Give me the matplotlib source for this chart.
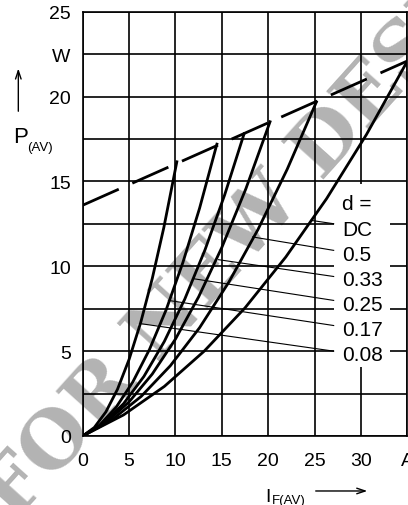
import matplotlib
matplotlib.use('Agg')
import matplotlib.pyplot as plt
from matplotlib.patches import Rectangle, FancyArrowPatch

# forward power loss vs average forward current, duty cycle d as parameter
i_008 = [0, 1.25, 2.5, 3.75, 5, 6.25, 7.5, 8.75, 10.15]
p_008 = [0, 0.50, 1.42, 2.75, 4.51, 6.68, 9.28, 12.29, 16.16]

i_017 = [0, 1.8, 3.6, 5.4, 7.2, 9, 10.8, 12.6, 14.47]
p_017 = [0, 0.63, 1.69, 3.18, 5.10, 7.44, 10.22, 13.42, 17.2]

i_025 = [0, 2.2, 4.4, 6.6, 8.8, 11, 13.2, 15.3, 17.4]
p_025 = [0, 0.73, 1.90, 3.51, 5.57, 8.06, 10.99, 14.20, 17.81]

i_033 = [0, 2.5, 5, 7.5, 10, 12.5, 15, 17.6, 20.2]
p_033 = [0, 0.79, 2.01, 3.65, 5.71, 8.20, 11.11, 14.58, 18.52]

i_050 = [0, 3.15, 6.3, 9.45, 12.6, 15.75, 18.9, 22.05, 25.2]
p_050 = [0, 0.95, 2.33, 4.14, 6.38, 9.06, 12.17, 15.72, 19.69]

i_dc = [0, 4.4, 8.8, 13.1, 17.5, 21.9, 26.3, 30.6, 35]
p_dc = [0, 1.24, 2.92, 5.00, 7.55, 10.55, 13.99, 17.77, 22.09]

# dashed limit line
limit_i = [0, 35]
limit_p = [13.6, 22.1]

# labels "d =" and the leader lines to each curve
duty_labels = ['DC', '0.5', '0.33', '0.25', '0.17', '0.08']
leader_i = [24.6, 18.32, 14.65, 11.94, 9.24, 6.37]
leader_p = [12.71, 11.73, 10.39, 9.27, 7.99, 6.61]
leader_end_p = [12.51, 10.94, 9.40, 7.99, 6.51, 5.0]
label_p = [11.82, 10.36, 8.88, 7.41, 5.95, 4.50]

x_ticks = [0, 5, 10, 15, 20, 25, 30, 35]
x_labels = ['0', '5', '10', '15', '20', '25', '30', 'A']
y_ticks = [0, 5, 10, 15, 20, 22.5, 25]
y_labels = ['0', '5', '10', '15', '20', 'W', '25']
y_minor = [2.5, 7.5, 12.5, 17.5]

plt.rcParams['font.family'] = ['Liberation Sans', 'DejaVu Sans']
plt.rcParams['lines.scale_dashes'] = False

fig = plt.figure(figsize=(4.08, 5.06), dpi=100)
fig.patch.set_facecolor('white')
ax = fig.add_axes([0.2027, 0.1364, 0.7956, 0.8383])
ax.set_facecolor('none')
ax.set_axisbelow(True)

ax.set_xlim(0, 35)
ax.set_ylim(0, 25)
ax.set_xticks(x_ticks)
ax.set_xticklabels(x_labels)
ax.set_yticks(y_ticks)
ax.set_yticklabels(y_labels)
ax.set_yticks(y_minor, minor=True)
ax.tick_params(which='both', length=0, labelsize=14)
ax.tick_params(axis='x', pad=11.5)
ax.tick_params(axis='y', pad=8.6)
ax.grid(which='both', color='black', lw=1.2)
for sp in ax.spines.values():
    sp.set_linewidth(1.2)

# curves
for xs, ys in [(i_008, p_008), (i_017, p_017), (i_025, p_025),
               (i_033, p_033), (i_050, p_050), (i_dc, p_dc)]:
    ax.plot(xs, ys, color='black', lw=2.0, zorder=3)

ax.plot(limit_i, limit_p, color='black', lw=2.0,
        linestyle=(0, (28.4, 10.7)), dash_capstyle='butt', zorder=3)

# white block behind the legend text
ax.add_patch(Rectangle((27.06, 4.07), 33.13 - 27.06, 14.85 - 4.07,
                       facecolor='white', edgecolor='none', zorder=1.5))

for lab, cx, cy, ey, ty in zip(duty_labels, leader_i, leader_p, leader_end_p, label_p):
    ax.plot([cx, 27.06], [cy, ey], color='black', lw=0.8, zorder=3)
    ax.text(27.97, ty, lab, fontsize=15, ha='left', va='baseline', zorder=4)
ax.text(27.97, 13.35, 'd =', fontsize=15, ha='left', va='baseline', zorder=4)

# axis labels
fig.text(0.0319, 0.7174, 'P', fontsize=16, ha='left', va='baseline')
fig.text(0.0674, 0.7016, '(AV)', fontsize=9.5, ha='left', va='baseline')
fig.text(0.6495, 0.0079, 'I', fontsize=14, ha='left', va='baseline')
fig.text(0.6667, 0.004, 'F(AV)', fontsize=9.5, ha='left', va='baseline')
fig.patches.append(FancyArrowPatch(
    (0.0449, 0.7727), (0.0449, 0.8682), transform=fig.transFigure,
    arrowstyle='->,head_length=6,head_width=2', lw=1.0, color='black'))
fig.patches.append(FancyArrowPatch(
    (0.767, 0.0277), (0.907, 0.0277), transform=fig.transFigure,
    arrowstyle='->,head_length=6,head_width=2', lw=1.0, color='black'))

# watermark
fig.text(0.035, -0.035, 'FOR NEW DESIGN', rotation=48, rotation_mode='anchor',
         ha='left', va='baseline', fontsize=56, family='DejaVu Serif',
         fontweight='bold', color='#b3b3b3', zorder=-1)

fig.savefig('out.png', dpi=100)
